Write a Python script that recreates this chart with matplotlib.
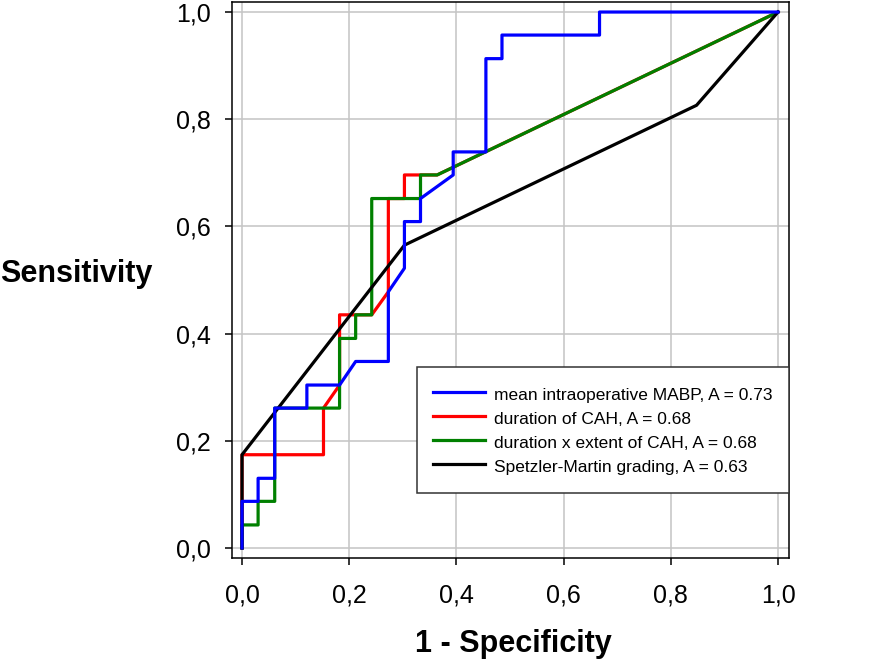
import matplotlib
matplotlib.use("Agg")
import matplotlib.pyplot as plt

plt.rcParams["font.family"] = ["Liberation Sans", "DejaVu Sans"]

# ROC curves (1 - specificity, sensitivity)
mabp_fpr = [0, 0, 0.030, 0.030, 0.061, 0.061, 0.121, 0.121, 0.182, 0.212, 0.273, 0.273, 0.303,
            0.303, 0.333, 0.333, 0.394, 0.394, 0.455, 0.455, 0.485, 0.485, 0.667, 0.667, 1.0]
mabp_tpr = [0, 0.087, 0.087, 0.130, 0.130, 0.261, 0.261, 0.304, 0.304, 0.348, 0.348, 0.478, 0.522,
            0.609, 0.609, 0.652, 0.696, 0.739, 0.739, 0.913, 0.913, 0.957, 0.957, 1.0, 1.0]

cah_fpr = [0, 0, 0.152, 0.152, 0.182, 0.182, 0.242, 0.273, 0.273, 0.303, 0.303, 0.364, 1.0]
cah_tpr = [0, 0.174, 0.174, 0.261, 0.304, 0.435, 0.435, 0.478, 0.652, 0.652, 0.696, 0.696, 1.0]

ext_fpr = [0, 0, 0.030, 0.030, 0.061, 0.061, 0.182, 0.182, 0.212, 0.212, 0.242, 0.242, 0.333,
           0.333, 0.364, 1.0]
ext_tpr = [0, 0.043, 0.043, 0.087, 0.087, 0.261, 0.261, 0.391, 0.391, 0.435, 0.435, 0.652, 0.652,
           0.696, 0.696, 1.0]

sm_fpr = [0, 0, 0.303, 0.848, 1.0]
sm_tpr = [0, 0.174, 0.565, 0.826, 1.0]

labels = ["mean intraoperative MABP, A = 0.73",
          "duration of CAH, A = 0.68",
          "duration x extent of CAH, A = 0.68",
          "Spetzler-Martin grading, A = 0.63"]
ticks = [0.0, 0.2, 0.4, 0.6, 0.8, 1.0]
tick_labels = ["0,0", "0,2", "0,4", "0,6", "0,8", "1,0"]

W, H = 894, 664
fig = plt.figure(figsize=(W / 100, H / 100), dpi=100)
ax = fig.add_axes([232 / W, 106 / H, 557 / W, 556 / H])

lw = 2.3
l_blue, = ax.plot(mabp_fpr, mabp_tpr, color="#0000ff", lw=lw, zorder=5)
l_red, = ax.plot(cah_fpr, cah_tpr, color="#ff0000", lw=lw, zorder=2)
l_green, = ax.plot(ext_fpr, ext_tpr, color="#008000", lw=lw, zorder=3)
l_black, = ax.plot(sm_fpr, sm_tpr, color="black", lw=lw, zorder=4)

ax.set_xlim(-0.0187, 1.0205)
ax.set_ylim(-0.0187, 1.0187)
ax.set_xticks(ticks)
ax.set_xticklabels(tick_labels)
ax.set_yticks(ticks)
ax.set_yticklabels(tick_labels)
ax.tick_params(direction="out", length=5, width=1.1, labelsize=18, color="black")
ax.tick_params(axis="x", pad=13)
ax.tick_params(axis="y", pad=10)
ax.grid(True, color="#c4c4c4", lw=1.1)
ax.set_axisbelow(True)
for s in ax.spines.values():
    s.set_linewidth(1.1)

# tall rows (handleheight) give the loose line pitch of the original legend
leg = ax.legend([l_blue, l_red, l_green, l_black], labels, loc="upper right",
                bbox_to_anchor=(1.0, (558 - 367) / 556), borderaxespad=0,
                fontsize=12.5, handlelength=3.0, handleheight=1.45, handletextpad=0.5,
                labelspacing=0.2, borderpad=0.95, fancybox=False, framealpha=1)
leg.get_frame().set_edgecolor("#333333")
leg.get_frame().set_linewidth(1.1)

fig.text(513 / W, 1 - 652 / H, "1 - Specificity", ha="center", va="baseline",
         fontsize=22, fontweight="bold")
fig.text(0.0, 1 - 282 / H, "Sensitivity", ha="left", va="baseline",
         fontsize=22, fontweight="bold")

fig.savefig("out.png", dpi=100)
